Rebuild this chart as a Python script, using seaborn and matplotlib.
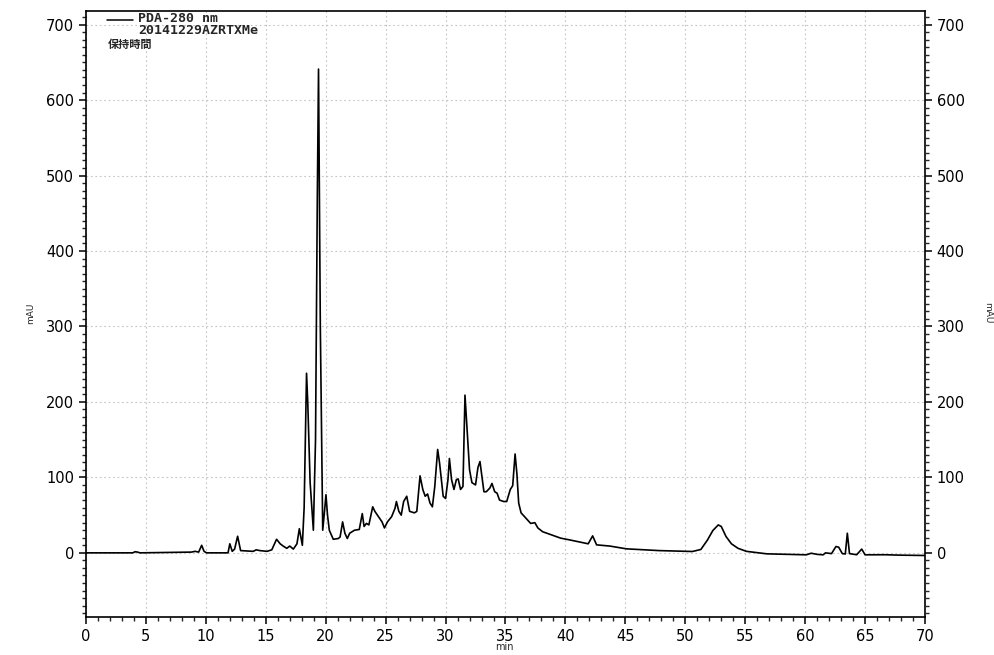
import matplotlib
matplotlib.use("Agg")
import matplotlib.pyplot as plt
from matplotlib.ticker import MultipleLocator
import seaborn as sns
import pandas as pd

# Chromatogram trace (time in min, absorbance in mAU)
time_min = [0.0, 3.9, 4.1, 4.3, 4.5, 8.8, 9.1, 9.4, 9.65, 9.85, 10.05, 11.85, 12.0, 12.2, 12.4,
            12.65, 12.9, 13.95, 14.2, 14.5, 15.1, 15.5, 15.9, 16.2, 16.45, 16.75, 17.0, 17.3,
            17.6, 17.8, 18.05, 18.2, 18.4, 18.5, 18.7, 18.97, 19.15, 19.3, 19.4, 19.55, 19.75,
            19.9, 20.02, 20.15, 20.3, 20.63, 21.05, 21.2, 21.41, 21.6, 21.8, 22.0, 22.4, 22.8,
            23.05, 23.2, 23.4, 23.6, 23.92, 24.1, 24.4, 24.7, 24.9, 25.15, 25.5, 25.78, 25.9,
            26.1, 26.3, 26.5, 26.76, 27.0, 27.4, 27.6, 27.87, 28.1, 28.3, 28.5, 28.7, 28.9,
            29.1, 29.34, 29.5, 29.8, 30.0, 30.2, 30.32, 30.5, 30.7, 30.9, 31.05, 31.25, 31.45,
            31.62, 31.8, 32.0, 32.2, 32.5, 32.7, 32.87, 33.0, 33.2, 33.4, 33.7, 33.87, 34.1,
            34.3, 34.5, 34.85, 35.1, 35.4, 35.6, 35.8, 35.95, 36.1, 36.3, 36.7, 37.1, 37.45,
            37.7, 38.1, 38.8, 39.6, 40.4, 41.3, 41.9, 42.27, 42.6, 43.7, 45.1, 47.8, 50.6,
            51.3, 51.85, 52.3, 52.75, 53.0, 53.4, 53.85, 54.4, 55.1, 56.8, 60.1, 60.5, 61.0,
            61.5, 61.7, 62.2, 62.57, 62.8, 63.1, 63.35, 63.52, 63.7, 64.3, 64.72, 65.0, 66.7,
            67.8, 70.0]
absorbance = [0.0, 0.0, 1.5, 1.0, 0.0, 1.0, 2.0, 1.0, 10.0, 2.0, 0.0, 0.0, 12.0, 2.0, 5.0,
              22.0, 3.0, 2.0, 4.0, 3.0, 2.0, 4.0, 18.0, 12.0, 9.0, 6.0, 9.0, 5.0,
              12.0, 32.0, 10.0, 60.0, 238.0, 200.0, 93.0, 30.0, 150.0, 472.0, 641.0, 300.0, 30.0,
              55.0, 77.0, 50.0, 30.0, 18.0, 19.0, 21.0, 41.0, 26.0, 19.0, 26.0, 30.0, 31.0,
              52.0, 35.0, 39.0, 37.0, 61.0, 55.0, 48.0, 41.0, 33.0, 41.0, 48.0, 59.0, 68.0,
              55.0, 50.0, 68.0, 75.0, 55.0, 53.0, 55.0, 102.0, 84.0, 75.0, 78.0, 66.0, 61.0,
              88.0, 137.0, 119.0, 75.0, 72.0, 97.0, 125.0, 97.0, 84.0, 97.0, 98.0, 84.0, 88.0,
              209.0, 163.0, 110.0, 93.0, 90.0, 113.0, 121.0, 105.0, 81.0, 81.0, 86.0, 92.0, 81.0,
              79.0, 70.0, 68.0, 68.0, 84.0, 89.0, 131.0, 105.0, 66.0, 53.0, 46.0, 39.0, 40.0,
              33.0, 28.0, 24.0, 19.5, 17.0, 14.0, 12.0, 22.5, 10.6, 9.0, 5.3, 3.0, 1.8,
              4.5, 17.0, 29.6, 37.0, 35.0, 21.6, 12.0, 6.0, 2.0, -1.3, -2.6, -0.5, -2.0,
              -2.6, 0.0, -1.0, 8.4, 7.5, -1.0, -1.5, 26.0, -1.0, -2.5, 5.0, -2.6, -2.5,
              -3.0, -3.5]

x_ticks = list(range(0, 71, 5))
y_ticks = list(range(0, 701, 100))
legend_lines = ["PDA-280 nm", "20141229AZRTXMe"]
legend_extra = "保持時間"

df = pd.DataFrame({"time": time_min, "mAU": absorbance})

sns.set_theme(style="white")
plt.rcParams["font.family"] = ["DejaVu Sans", "Noto Sans CJK JP"]

fig = plt.figure(figsize=(9.95, 6.55), dpi=100)
ax = fig.add_axes([86 / 995, 1 - 617 / 655, (925 - 86) / 995, (617 - 11) / 655])

sns.lineplot(data=df, x="time", y="mAU", ax=ax, color="black", linewidth=1.2,
             estimator=None, sort=False)

ax.set_xlim(0, 70)
ax.set_ylim(-85, 718)
ax.set_xticks(x_ticks)
ax.set_yticks(y_ticks)
ax.xaxis.set_minor_locator(MultipleLocator(1))
ax.yaxis.set_minor_locator(MultipleLocator(10))
ax.grid(True, which="major", color="#c4c4c4", linestyle=(0, (1.5, 2.5)), linewidth=0.8)
ax.set_axisbelow(True)
for s in ax.spines.values():
    s.set_color("black")
    s.set_linewidth(1.2)
ax.tick_params(axis="both", which="major", direction="out", length=5, width=1.1,
               labelsize=10.5, colors="black", bottom=True, left=True)
ax.tick_params(axis="both", which="minor", direction="out", length=3, width=1.0,
               bottom=True, left=True)
ax.set_xlabel("")
ax.set_ylabel("")

ax2 = ax.twinx()
ax2.set_ylim(-85, 718)
ax2.set_yticks(y_ticks)
ax2.yaxis.set_minor_locator(MultipleLocator(10))
ax2.tick_params(axis="y", which="major", direction="out", length=5, width=1.1,
                labelsize=10.5, colors="black", right=True)
ax2.tick_params(axis="y", which="minor", direction="out", length=3, width=1.0, right=True)
ax2.grid(False)
for s in ax2.spines.values():
    s.set_visible(False)

# axis titles
fig.text(504 / 995, 1 - 647 / 655, "min", fontsize=7, ha="center", va="center")
fig.text(31 / 995, 1 - 313 / 655, "mAU", fontsize=6.5, ha="center", va="center", rotation=90)
fig.text(988 / 995, 1 - 313 / 655, "mAU", fontsize=6.5, ha="center", va="center", rotation=270)

# legend block
fig.add_artist(plt.Line2D([107 / 995, 133 / 995], [1 - 20 / 655, 1 - 20 / 655],
                          color="black", linewidth=1.1))
fig.text(138 / 995, 1 - 18 / 655, legend_lines[0], fontsize=9.5, va="center", ha="left",
         family=["DejaVu Sans Mono", "Noto Sans CJK JP"], weight="bold")
fig.text(138 / 995, 1 - 31 / 655, legend_lines[1], fontsize=9.5, va="center", ha="left",
         family=["DejaVu Sans Mono", "Noto Sans CJK JP"], weight="bold")
fig.text(108 / 995, 1 - 44 / 655, legend_extra, fontsize=8, va="center", ha="left",
         family=["Noto Sans CJK JP", "DejaVu Sans"], weight="bold")

fig.savefig("out.png", dpi=100, facecolor="white")
